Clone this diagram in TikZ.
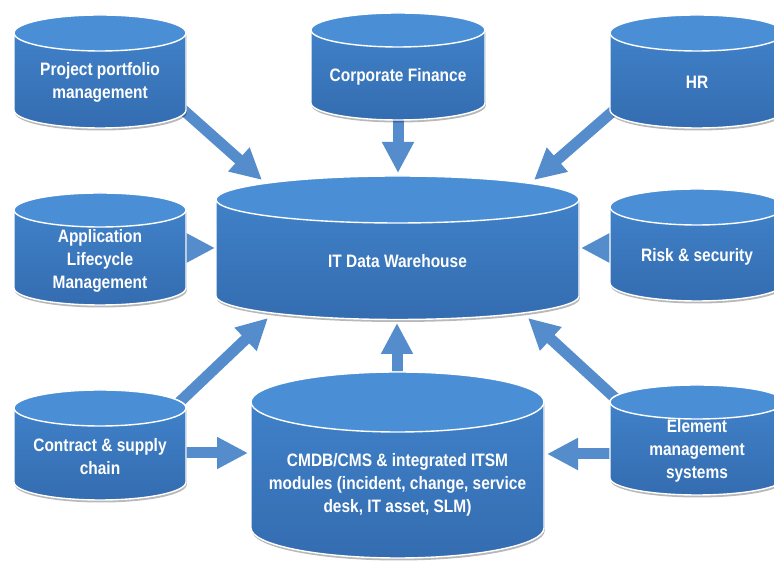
\documentclass[tikz,border=0pt]{standalone}
\usepackage{fontspec}
\setmainfont{Liberation Sans}[FakeStretch=0.86]
\usetikzlibrary{arrows.meta,shadows}
\definecolor{cyltop}{RGB}{74,143,213}
\definecolor{cylhi}{RGB}{66,133,205}
\definecolor{cyllo}{RGB}{52,108,176}
\definecolor{arrblue}{RGB}{84,140,204}
\tikzset{
  cylbody/.style={draw=white, line width=1.4pt, top color=cylhi, bottom color=cyllo,
    drop shadow={shadow xshift=0.8pt, shadow yshift=-2.5pt, opacity=0.28, fill=black}},
  cyltopst/.style={draw=white, line width=1.4pt, fill=cyltop},
  lbl/.style={text=white, align=center, font=\fontsize{18}{23}\selectfont\bfseries, inner sep=0pt},
  blk/.style={draw=arrblue, line width=11pt, -{Triangle[length=31pt,width=30pt]}}
}
% #1 cx, #2 top ellipse centre y, #3 bottom ellipse centre y, #4 rx, #5 ry (pixel coords, y down)
\newcommand{\dbcyl}[5]{%
  \path[cylbody] ({#1-#4},{561-#2}) -- ({#1-#4},{561-#3})
    arc[start angle=180,end angle=360,x radius=#4,y radius=#5]
    -- ({#1+#4},{561-#2})
    arc[start angle=0,end angle=180,x radius=#4,y radius=#5] -- cycle;
  \path[cyltopst] (#1,{561-#2}) ellipse[x radius=#4,y radius=#5];
}
\begin{document}
\begin{tikzpicture}[x=1pt,y=1pt]
\useasboundingbox (0,0) rectangle (774,561);
\clip (0,0) rectangle (774,561);
\fill[white] (0,0) rectangle (774,561);

% arrow end points (pixel coords converted, y = 561 - py)
\coordinate (ppmS) at (171,{561-99});   \coordinate (dwA) at (262,{561-180});
\coordinate (cfS)  at (398,{561-100});  \coordinate (dwB) at (398,{561-173});
\coordinate (hrS)  at (627,{561-99});   \coordinate (dwC) at (534,{561-180});
\coordinate (almS) at (150,{561-248});  \coordinate (dwD) at (215,{561-248});
\coordinate (rskS) at (650,{561-248});  \coordinate (dwE) at (581,{561-248});
\coordinate (conS) at (167,{561-414});  \coordinate (dwF) at (268,{561-318});
\coordinate (conT) at (150,{561-453});  \coordinate (cmA) at (248,{561-453});
\coordinate (cmS)  at (397,{561-400});  \coordinate (dwG) at (397,{561-323});
\coordinate (elS)  at (627,{561-409});  \coordinate (dwH) at (528,{561-318});
\coordinate (elT)  at (650,{561-454});  \coordinate (cmB) at (547,{561-454});

\draw[blk] (ppmS) -- (dwA);
\draw[blk] (cfS) -- (dwB);
\draw[blk] (hrS) -- (dwC);
\draw[blk] (almS) -- (dwD);
\draw[blk] (rskS) -- (dwE);
\draw[blk] (conS) -- (dwF);
\draw[blk] (conT) -- (cmA);
\draw[blk] (cmS) -- (dwG);
\draw[blk] (elS) -- (dwH);
\draw[blk] (elT) -- (cmB);

% cylinders
\dbcyl{100}{33}{110}{86}{18}
\dbcyl{398}{30}{103}{87}{17}
\dbcyl{697}{33}{110}{87}{18}
\dbcyl{100}{210}{288}{86}{17}
\dbcyl{697}{207}{283}{87}{18}
\dbcyl{100}{408}{482}{86}{18}
\dbcyl{697}{402}{478}{87}{17}
\dbcyl{397.5}{199.5}{296}{181.5}{23.5}
\dbcyl{397.5}{402}{528}{146.5}{30}

% labels
\node[lbl] (ppm) at (100,{561-82}) {Project portfolio\\management};
\node[lbl] (cf)  at (398,{561-77}) {Corporate Finance};
\node[lbl] (hr)  at (697,{561-82}) {HR};
\node[lbl] (alm) at (100,{561-261}) {Application\\Lifecycle\\Management};
\node[lbl] (rsk) at (697,{561-257}) {Risk \& security};
\node[lbl] (con) at (100,{561-457}) {Contract \& supply\\chain};
\node[lbl] (el)  at (697,{561-451}) {Element\\management\\systems};
\node[lbl] (dw)  at (397.5,{561-261}) {IT Data Warehouse};
\node[lbl] (cm)  at (397.5,{561-485}) {CMDB/CMS \& integrated ITSM\\modules (incident, change, service\\desk, IT asset, SLM)};
\end{tikzpicture}
\end{document}
